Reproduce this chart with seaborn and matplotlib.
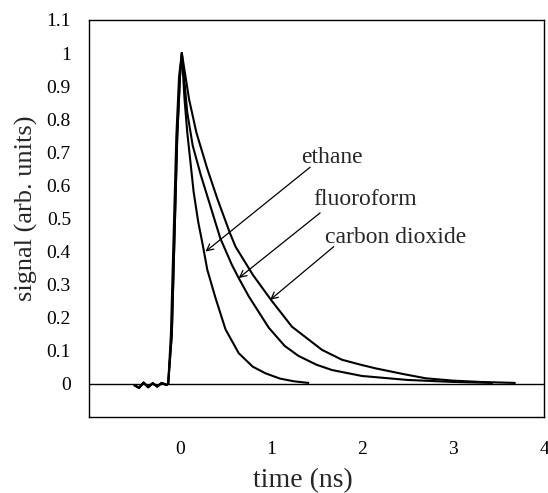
import matplotlib
matplotlib.use("Agg")
import matplotlib.pyplot as plt
import seaborn as sns
import pandas as pd

# values (time in ns, signal in arb. units)
baseline_t = [-0.50, -0.45, -0.40, -0.35, -0.30, -0.25, -0.20, -0.15, -0.13]
baseline_y = [-0.004, -0.012, 0.004, -0.010, 0.002, -0.008, 0.003, -0.003, 0.0]

ethane_t = [-0.10, -0.07, -0.04, -0.01, 0.02, 0.05, 0.08, 0.15, 0.20, 0.25, 0.30,
            0.39, 0.50, 0.645, 0.80, 0.94, 1.10, 1.25, 1.41]
ethane_y = [0.15, 0.45, 0.75, 0.93, 1.00, 0.86, 0.76, 0.58, 0.49, 0.42, 0.345,
            0.26, 0.165, 0.093, 0.052, 0.032, 0.016, 0.008, 0.003]

fluoro_t = [-0.09, -0.06, -0.03, 0.00, 0.02, 0.08, 0.14, 0.23, 0.32, 0.443, 0.57,
            0.645, 0.755, 0.975, 1.15, 1.30, 1.50, 1.67, 2.00, 2.50, 3.00, 3.43]
fluoro_y = [0.15, 0.45, 0.75, 0.93, 1.00, 0.82, 0.72, 0.63, 0.55, 0.44, 0.36,
            0.32, 0.265, 0.17, 0.115, 0.085, 0.058, 0.042, 0.024, 0.012, 0.006, 0.003]

co2_t = [-0.09, -0.06, -0.03, 0.00, 0.02, 0.10, 0.18, 0.30, 0.41, 0.55, 0.61, 0.80,
         1.00, 1.23, 1.56, 1.78, 2.00, 2.15, 2.45, 2.70, 3.00, 3.30, 3.68]
co2_y = [0.15, 0.45, 0.75, 0.93, 1.00, 0.86, 0.76, 0.65, 0.56, 0.455, 0.415, 0.33,
         0.254, 0.173, 0.103, 0.073, 0.057, 0.047, 0.030, 0.017, 0.010, 0.006, 0.003]

labels = ["ethane", "fluoroform", "carbon dioxide"]
label_xy = [(1.67, 0.685), (2.03, 0.556), (2.37, 0.444)]
arrow_from = [(1.43, 0.655), (1.54, 0.517), (1.69, 0.415)]
arrow_to = [(0.28, 0.40), (0.645, 0.32), (0.99, 0.254)]

x_ticks = [0, 1, 2, 3, 4]
y_ticks = [0, 0.1, 0.2, 0.3, 0.4, 0.5, 0.6, 0.7, 0.8, 0.9, 1.0, 1.1]
y_ticklabels = ["0", "0.1", "0.2", "0.3", "0.4", "0.5", "0.6", "0.7", "0.8", "0.9", "1", "1.1"]

frames = []
for name, t, y in [("ethane", ethane_t, ethane_y),
                   ("fluoroform", fluoro_t, fluoro_y),
                   ("carbon dioxide", co2_t, co2_y)]:
    frames.append(pd.DataFrame({"time": baseline_t + t, "signal": baseline_y + y, "gas": name}))
df = pd.concat(frames, ignore_index=True)

sns.set_style("white")
plt.rcParams["font.family"] = ["Liberation Serif", "DejaVu Serif"]

fig = plt.figure(figsize=(5.48, 4.93), dpi=100)
ax = fig.add_axes([89 / 548, 76 / 493, 455 / 548, 397 / 493])

sns.lineplot(data=df, x="time", y="signal", hue="gas", units="gas", estimator=None,
             sort=False, palette=["black"] * 3, linewidth=1.5, legend=False, ax=ax)
ax.axhline(0, color="black", linewidth=1.0)

for lab, xy, a0, a1 in zip(labels, label_xy, arrow_from, arrow_to):
    ax.text(xy[0], xy[1], lab, fontsize=17, ha="center", va="center")
    ax.annotate("", xy=a1, xytext=a0,
                arrowprops=dict(arrowstyle="->", color="black", lw=0.9,
                                mutation_scale=12, shrinkA=0, shrinkB=0))

ax.set_xlim(-1, 4)
ax.set_ylim(-0.1, 1.1)
ax.set_xticks(x_ticks)
ax.set_yticks(y_ticks)
ax.set_yticklabels(y_ticklabels)
ax.tick_params(direction="in", length=5, width=1, colors="black", labelsize=14)
ax.tick_params(axis="x", pad=17)
ax.tick_params(axis="y", pad=13)
for s in ax.spines.values():
    s.set_color("black")
    s.set_linewidth(1.0)

ax.set_xlabel("time (ns)", fontsize=20)
ax.set_ylabel("signal (arb. units)", fontsize=19)
ax.xaxis.set_label_coords(0.471, -0.128)
ax.yaxis.set_label_coords(-0.112, 0.526)

fig.savefig("out.png", dpi=100)
